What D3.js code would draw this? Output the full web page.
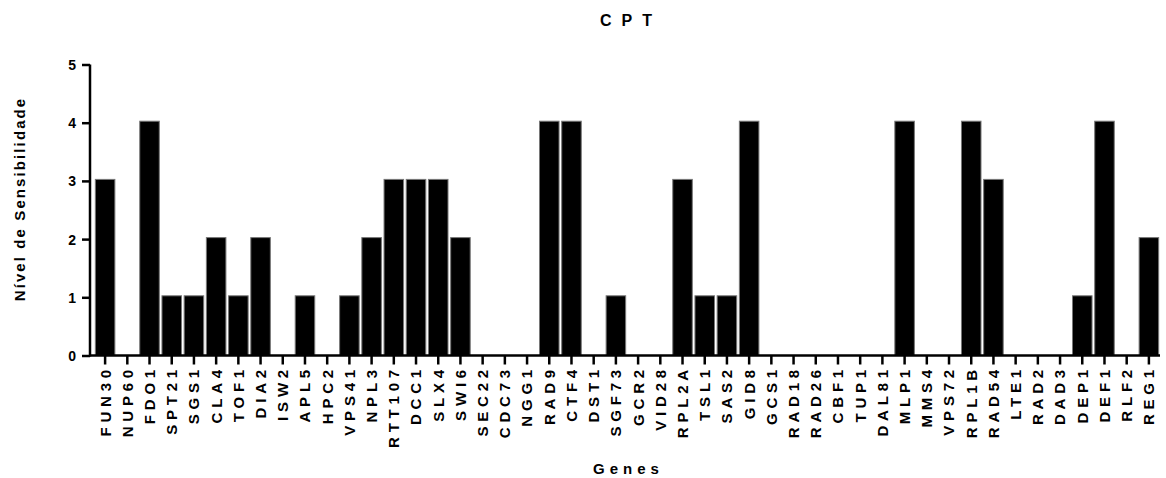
<!DOCTYPE html>
<html><head><meta charset="utf-8">
<script src="https://cdn.jsdelivr.net/npm/d3@7"></script>
<style>body{margin:0;background:#fff}svg{display:block}text{font-family:"Liberation Sans",Arial,sans-serif;font-weight:bold;fill:#000}</style>
</head><body>
<script>
const genes = ["FUN30","NUP60","FDO1","SPT21","SGS1","CLA4","TOF1","DIA2","ISW2","APL5","HPC2","VPS41","NPL3","RTT107","DCC1","SLX4","SWI6","SEC22","CDC73","NGG1","RAD9","CTF4","DST1","SGF73","GCR2","VID28","RPL2A","TSL1","SAS2","GID8","GCS1","RAD18","RAD26","CBF1","TUP1","DAL81","MLP1","MMS4","VPS72","RPL1B","RAD54","LTE1","RAD2","DAD3","DEP1","DEF1","RLF2","REG1"];
const values = [3,0,4,1,1,2,1,2,0,1,0,1,2,3,3,3,2,0,0,0,4,4,0,1,0,0,3,1,1,4,0,0,0,0,0,0,4,0,0,4,3,0,0,0,1,4,0,2];
const yTicks = [0,1,2,3,4,5];
const title = "CPT", xTitle = "Genes", yTitle = "Nível de Sensibilidade";

const W=1166,H=478;
const svg=d3.select("body").append("svg").attr("width",W).attr("height",H);
const x=d3.scaleBand().domain(genes).range([94,1160]).paddingInner(0.12).paddingOuter(0.06);
const y=d3.scaleLinear().domain([0,5]).range([355.5,64.5]);

svg.selectAll("rect.bar").data(genes.map((g,i)=>({g,v:values[i]})).filter(d=>d.v>0))
  .enter().append("rect").attr("class","bar")
  .attr("x",d=>x(d.g)).attr("width",x.bandwidth())
  .attr("y",d=>y(d.v)-1.5).attr("height",d=>y(0)-y(d.v)+1.5)
  .attr("fill","#000").attr("stroke","#777").attr("stroke-width",1);

// y axis
const ya=svg.append("g").attr("transform","translate(90,0)")
  .call(d3.axisLeft(y).tickValues(yTicks).tickFormat(d3.format("d")).tickSize(8).tickPadding(6));
ya.select(".domain").attr("d",`M0,${y(5)}V${y(0)+1}`).attr("stroke-width",2.5);
ya.selectAll(".tick line").attr("stroke-width",2.5);
ya.selectAll("text").style("font-size","14px").attr("dy","0.36em");

// x axis
const xa=svg.append("g").attr("transform",`translate(0,${y(0)})`)
  .call(d3.axisBottom(x).tickSize(9).tickSizeOuter(0));
xa.select(".domain").attr("d","M89,0H1160").attr("stroke-width",2.5);
xa.selectAll(".tick line").attr("stroke-width",2.5);
xa.selectAll("text").style("font-size","15px").style("letter-spacing","4.8px")
  .attr("text-anchor","end").attr("transform","rotate(-90)")
  .attr("x",-9.5).attr("y",0).attr("dy","0.36em");

svg.append("text").attr("x",631).attr("y",26).attr("text-anchor","middle")
  .style("font-size","16px").style("letter-spacing","10px").text(title);
svg.append("text").attr("x",628.5).attr("y",474).attr("text-anchor","middle")
  .style("font-size","15px").style("letter-spacing","5px").text(xTitle);
svg.append("text").attr("transform","translate(25,199) rotate(-90)").attr("text-anchor","middle")
  .style("font-size","15px").style("letter-spacing","2.1px").text(yTitle);
</script>
</body></html>
